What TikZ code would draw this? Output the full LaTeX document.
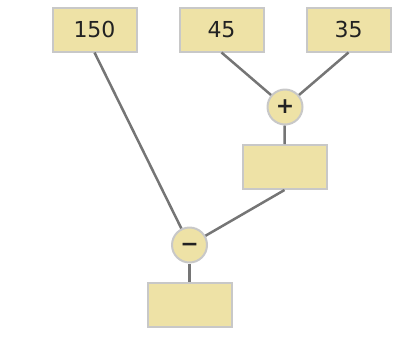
\documentclass[tikz,border=0pt]{standalone}
\usepackage{fontspec}
\setmainfont{DejaVu Sans}
\usetikzlibrary{positioning}
\definecolor{boxfill}{HTML}{EEE2A6}
\definecolor{boxline}{HTML}{C8C8C8}
\definecolor{edgegray}{HTML}{757575}
\definecolor{textdark}{HTML}{222222}

\begin{document}
\begin{tikzpicture}[x=1pt,y=-1pt,
          val/.style={rectangle,draw=boxline,fill=boxfill,line width=2pt,
            minimum width=84pt,minimum height=44pt,inner sep=0pt,
            text=textdark,font=\fontsize{22}{26}\selectfont},
          op/.style={circle,draw=boxline,fill=boxfill,line width=2pt,
            minimum size=35pt,inner sep=0pt,text=textdark,
            font=\fontsize{22}{26}\selectfont\bfseries},
          e/.style={draw=edgegray,line width=2.5pt}]
        \useasboundingbox (0,0) rectangle (419,349);
        \node[val] (a) at (94.5,29.5) {150};
        \node[val] (b) at (221.5,29.5) {45};
        \node[val] (c) at (348.5,29.5) {35};
        \node[op] (plus) at (285,107) {+};
        \node[val] (sum) at (284.5,167) {};
        \node[op] (minus) at (189.5,245) {\vphantom{+}−};
        \node[val] (res) at (189.5,305) {};
        \draw[e] (b.south) -- (plus);
        \draw[e] (c.south) -- (plus);
        \draw[e] (plus) -- (sum.north);
        \draw[e] (a.south) -- (minus);
        \draw[e] (sum.south) -- (minus);
        \draw[e] (minus) -- (res.north);
      \end{tikzpicture}
\end{document}
